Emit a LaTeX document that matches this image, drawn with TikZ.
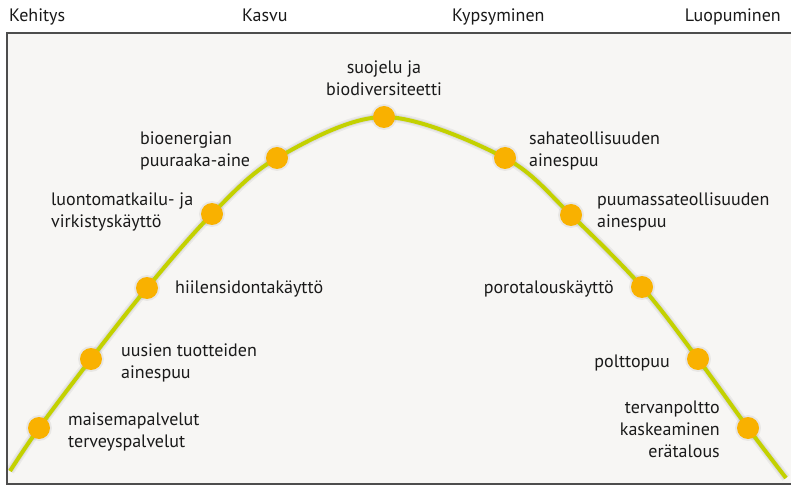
\documentclass[tikz,border=0pt]{standalone}
\usepackage{fontspec}
\setmainfont{PT Sans}
\definecolor{bg}{HTML}{F7F6F4}
\definecolor{curvecol}{HTML}{C3D100}
\definecolor{dotcol}{HTML}{F9B100}
\definecolor{framecol}{HTML}{4D4D4D}
\definecolor{txt}{HTML}{1A1A1A}
\begin{document}
\begin{tikzpicture}[x=1pt,y=-1pt,
  lbl/.style={font=\fontsize{18}{22}\selectfont, text=txt, inner sep=0pt},
  head/.style={font=\fontsize{18}{22}\selectfont, text=txt, inner sep=0pt, anchor=base west},
  dotnode/.style={circle, fill=dotcol, minimum size=22pt, inner sep=0pt},
  dotshadow/.style={circle, fill=black, opacity=0.06, minimum size=26pt, inner sep=0pt}]
\useasboundingbox (0,0) rectangle (792,486);
\fill[white] (0,0) rectangle (792,486);
% frame
\fill[bg] (7,33) rectangle (791,484);
\draw[framecol, line width=1.4pt] (791,33) -- (7,33) -- (7,484) -- (791,484);
% headers
\node[head] (h1) at (9,22) {Kehitys};
\node[head] (h2) at (242,22) {Kasvu};
\node[head] (h3) at (452,22) {Kypsyminen};
\node[head, anchor=base east] (h4) at (781,22) {Luopuminen};
% curve points
\coordinate (p0) at (10,471);
\coordinate (p1) at (39,428);
\coordinate (p2) at (91,359);
\coordinate (p3) at (147,288);
\coordinate (p4) at (212,214);
\coordinate (p5) at (277,158);
\coordinate (p6) at (384,117);
\coordinate (p7) at (505,158);
\coordinate (p8) at (571,215);
\coordinate (p9) at (642,287);
\coordinate (p10) at (698,359);
\coordinate (p11) at (748,428);
\coordinate (p12) at (786,478);
% shadow
\begin{scope}[shift={(3,4)}]
\draw[black, opacity=0.05, line width=9pt] plot[smooth, tension=0.55] coordinates {(p0) (p1) (p2) (p3) (p4) (p5) (p6) (p7) (p8) (p9) (p10) (p11) (p12)};
\draw[black, opacity=0.05, line width=6pt] plot[smooth, tension=0.55] coordinates {(p0) (p1) (p2) (p3) (p4) (p5) (p6) (p7) (p8) (p9) (p10) (p11) (p12)};
\foreach \i in {1,...,11} \node[dotshadow] at (p\i) {};
\end{scope}
% curve
\draw[curvecol, line width=4pt] plot[smooth, tension=0.55] coordinates {(p0) (p1) (p2) (p3) (p4) (p5) (p6) (p7) (p8) (p9) (p10) (p11) (p12)};
\foreach \i in {1,...,11} \node[dotnode] (d\i) at (p\i) {};
% labels (anchor = baseline of last line)
\node[lbl, anchor=base, align=center] (l6) at (384,96) {suojelu ja\\biodiversiteetti};
\node[lbl, anchor=base west, align=left] (l5) at (140,167) {bioenergian\\puuraaka-aine};
\node[lbl, anchor=base west, align=left] (l4) at (51,228) {luontomatkailu- ja\\virkistyskäyttö};
\node[lbl, anchor=base west] (l3) at (175,294) {hiilensidontakäyttö};
\node[lbl, anchor=base west, align=left] (l2) at (121,378) {uusien tuotteiden\\ainespuu};
\node[lbl, anchor=base west, align=left] (l1) at (68,447) {maisemapalvelut\\terveyspalvelut};
\node[lbl, anchor=base west, align=left] (l7) at (529,167) {sahateollisuuden\\ainespuu};
\node[lbl, anchor=base west, align=left] (l8) at (597,228) {puumassateollisuuden\\ainespuu};
\node[lbl, anchor=base east] (l9) at (614,294) {porotalouskäyttö};
\node[lbl, anchor=base east] (l10) at (670,367) {polttopuu};
\node[lbl, anchor=base east, align=right] (l11) at (720,457) {tervanpoltto\\kaskeaminen\\erätalous};
\end{tikzpicture}
\end{document}
